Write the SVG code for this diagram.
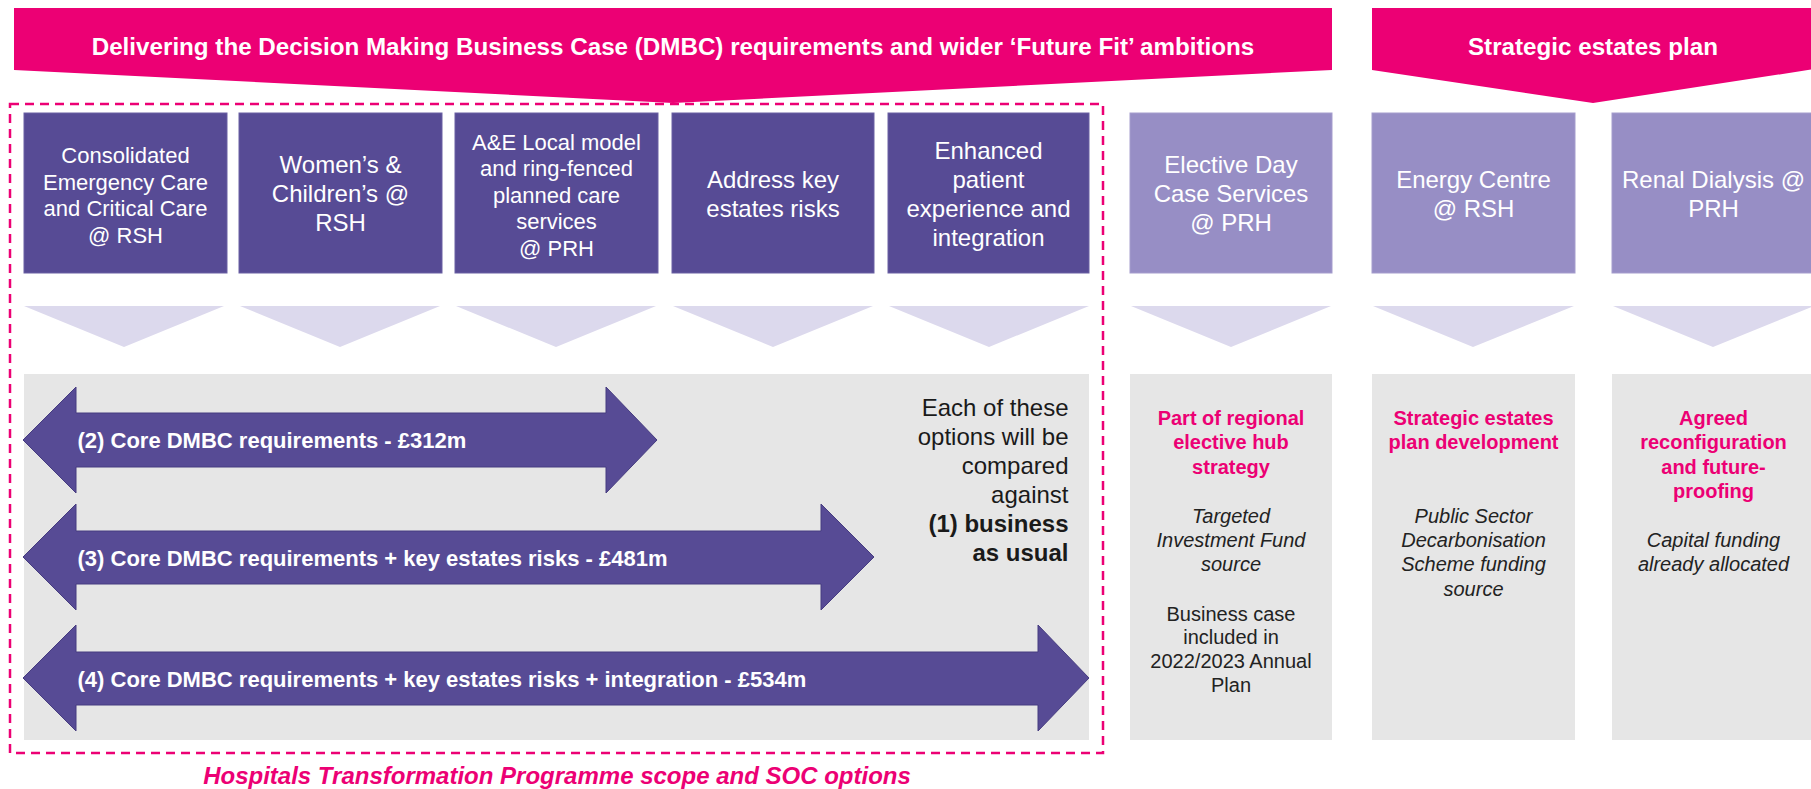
<svg xmlns="http://www.w3.org/2000/svg" width="1811" height="789" viewBox="0 0 1811 789">
  <style>
    text { font-family: "Liberation Sans", Arial, sans-serif; }
    .banner { fill: #EC0074; }
    .banner-t { fill: #ffffff; font-size: 24.2px; font-weight: bold; text-anchor: middle; }
    .dark { fill: #574B95; stroke: #6A60A3; stroke-width: 1; }
    .light { fill: #978EC5; stroke: #A59DCD; stroke-width: 1; }
    .box-t { fill: #ffffff; text-anchor: middle; font-size: 24px; }
    .box-s { font-size: 22px; }
    .chev { fill: #DCD9ED; }
    .panel { fill: #E6E6E6; }
    .arrow { fill: #574B95; stroke: #463C80; stroke-width: 1; }
    .arrow-t { fill: #ffffff; font-size: 22px; font-weight: bold; }
    .note { fill: #1a1a1a; font-size: 24px; text-anchor: end; }
    .pink { fill: #EC0074; font-size: 20px; font-weight: bold; text-anchor: middle; }
    .ital { fill: #222222; font-size: 20px; font-style: italic; text-anchor: middle; }
    .plain { fill: #222222; font-size: 20px; text-anchor: middle; }
    .scope { fill: none; stroke: #EC0074; stroke-width: 2.5; stroke-dasharray: 9 6; }
    .scope-t { fill: #EC0074; font-size: 24px; font-weight: bold; font-style: italic; text-anchor: middle; }
  </style>

  <!-- Header banners -->
  <g id="banner-dmbc">
    <polygon class="banner" points="14,8 1332,8 1332,70 673,103 14,70"/>
    <text class="banner-t" x="673" y="55">Delivering the Decision Making Business Case (DMBC) requirements and wider ‘Future Fit’ ambitions</text>
  </g>
  <g id="banner-estates">
    <polygon class="banner" points="1372,8 1815,8 1815,69 1593,103 1372,70"/>
    <text class="banner-t" x="1593" y="55">Strategic estates plan</text>
  </g>

  <!-- Grey content panels -->
  <g id="panel-options">
    <rect class="panel" x="24" y="374" width="1065" height="366"/>
  </g>

  <!-- Scope boundary -->
  <g id="scope">
    <rect class="scope" x="10" y="104" width="1093" height="649"/>
    <text class="scope-t" x="557" y="784">Hospitals Transformation Programme scope and SOC options</text>
  </g>

  <!-- Option nodes -->
  <g id="node-emergency">
    <rect class="dark" x="24" y="113" width="203" height="160"/>
    <text class="box-t box-s"><tspan x="125.5" y="163">Consolidated</tspan><tspan x="125.5" y="189.5">Emergency Care</tspan><tspan x="125.5" y="216">and Critical Care</tspan><tspan x="125.5" y="242.5">@ RSH</tspan></text>
  </g>
  <g id="node-womens">
    <rect class="dark" x="239" y="113" width="203" height="160"/>
    <text class="box-t"><tspan x="340.5" y="173">Women’s &amp;</tspan><tspan x="340.5" y="202">Children’s @</tspan><tspan x="340.5" y="231">RSH</tspan></text>
  </g>
  <g id="node-ae">
    <rect class="dark" x="455" y="113" width="203" height="160"/>
    <text class="box-t box-s"><tspan x="556.5" y="149.5">A&amp;E Local model</tspan><tspan x="556.5" y="176">and ring-fenced</tspan><tspan x="556.5" y="202.5">planned care</tspan><tspan x="556.5" y="229">services</tspan><tspan x="556.5" y="255.5">@ PRH</tspan></text>
  </g>
  <g id="node-estates-risks">
    <rect class="dark" x="672" y="113" width="202" height="160"/>
    <text class="box-t"><tspan x="773" y="188">Address key</tspan><tspan x="773" y="217">estates risks</tspan></text>
  </g>
  <g id="node-patient">
    <rect class="dark" x="888" y="113" width="201" height="160"/>
    <text class="box-t"><tspan x="988.5" y="158.5">Enhanced</tspan><tspan x="988.5" y="187.5">patient</tspan><tspan x="988.5" y="216.5">experience and</tspan><tspan x="988.5" y="245.5">integration</tspan></text>
  </g>

  <!-- Elective day case -->
  <g id="node-elective">
    <rect class="light" x="1130" y="113" width="202" height="160"/>
    <text class="box-t"><tspan x="1231" y="173">Elective Day</tspan><tspan x="1231" y="202">Case Services</tspan><tspan x="1231" y="231">@ PRH</tspan></text>
    <rect class="panel" x="1130" y="374" width="202" height="366"/>
    <text class="pink"><tspan x="1231" y="425">Part of regional</tspan><tspan x="1231" y="449.3">elective hub</tspan><tspan x="1231" y="473.6">strategy</tspan></text>
    <text class="ital"><tspan x="1231" y="522.7">Targeted</tspan><tspan x="1231" y="547">Investment Fund</tspan><tspan x="1231" y="571.3">source</tspan></text>
    <text class="plain"><tspan x="1231" y="620.5">Business case</tspan><tspan x="1231" y="644.3">included in</tspan><tspan x="1231" y="668.1">2022/2023 Annual</tspan><tspan x="1231" y="691.9">Plan</tspan></text>
  </g>

  <!-- Strategic estates plan items -->
  <g id="node-energy">
    <rect class="light" x="1372" y="113" width="203" height="160"/>
    <text class="box-t"><tspan x="1473.5" y="188">Energy Centre</tspan><tspan x="1473.5" y="217">@ RSH</tspan></text>
    <rect class="panel" x="1372" y="374" width="203" height="366"/>
    <text class="pink"><tspan x="1473.5" y="425">Strategic estates</tspan><tspan x="1473.5" y="449.3">plan development</tspan></text>
    <text class="ital"><tspan x="1473.5" y="522.7">Public Sector</tspan><tspan x="1473.5" y="547">Decarbonisation</tspan><tspan x="1473.5" y="571.3">Scheme funding</tspan><tspan x="1473.5" y="595.6">source</tspan></text>
  </g>
  <g id="node-renal">
    <rect class="light" x="1612" y="113" width="203" height="160"/>
    <text class="box-t"><tspan x="1713.5" y="188">Renal Dialysis @</tspan><tspan x="1713.5" y="217">PRH</tspan></text>
    <rect class="panel" x="1612" y="374" width="203" height="366"/>
    <text class="pink"><tspan x="1713.5" y="425">Agreed</tspan><tspan x="1713.5" y="449.3">reconfiguration</tspan><tspan x="1713.5" y="473.6">and future-</tspan><tspan x="1713.5" y="497.9">proofing</tspan></text>
    <text class="ital"><tspan x="1713.5" y="547">Capital funding</tspan><tspan x="1713.5" y="571.3">already allocated</tspan></text>
  </g>

  <!-- Down chevrons linking each column to its panel -->
  <g id="connectors">
    <polygon class="chev" points="24,306 224,306 124,347"/>
    <polygon class="chev" points="240,306 440,306 340,347"/>
    <polygon class="chev" points="456,306 656,306 556,347"/>
    <polygon class="chev" points="673,306 873,306 773,347"/>
    <polygon class="chev" points="889,306 1089,306 989,347"/>
    <polygon class="chev" points="1131,306 1331,306 1231,347"/>
    <polygon class="chev" points="1373,306 1574,306 1473,347"/>
    <polygon class="chev" points="1613,306 1814,306 1713,347"/>
  </g>

  <!-- Option range arrows -->
  <g id="option-2">
    <path class="arrow" d="M23,440 L76,387 L76,413 L606,413 L606,387 L657,440 L606,493 L606,467 L76,467 L76,493 Z"/>
    <text class="arrow-t" x="77.5" y="448">(2) Core DMBC requirements - £312m</text>
  </g>
  <g id="option-3">
    <path class="arrow" d="M23,557 L76,504 L76,531 L821,531 L821,504 L874,557 L821,610 L821,584 L76,584 L76,610 Z"/>
    <text class="arrow-t" x="77.5" y="565.5">(3) Core DMBC requirements + key estates risks - £481m</text>
  </g>
  <g id="option-4">
    <path class="arrow" d="M23,678 L76,625 L76,652 L1038,652 L1038,625 L1089,678 L1038,731 L1038,705 L76,705 L76,731 Z"/>
    <text class="arrow-t" x="77.5" y="686.5">(4) Core DMBC requirements + key estates risks + integration - £534m</text>
  </g>

  <g id="option-1-note">
    <text class="note"><tspan x="1068.5" y="416">Each of these</tspan><tspan x="1068.5" y="445">options will be</tspan><tspan x="1068.5" y="474">compared</tspan><tspan x="1068.5" y="503">against</tspan><tspan x="1068.5" y="532" font-weight="bold">(1) business</tspan><tspan x="1068.5" y="561" font-weight="bold">as usual</tspan></text>
  </g>
</svg>
